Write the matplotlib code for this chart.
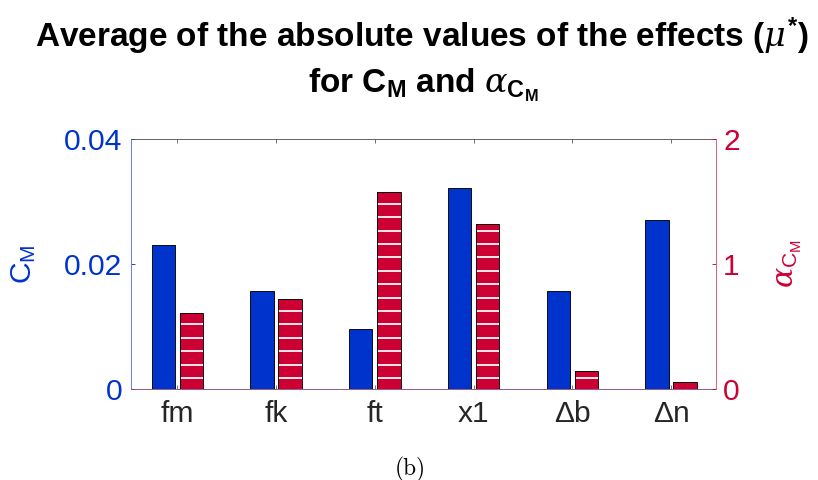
import numpy as np
import matplotlib
matplotlib.use('Agg')
import matplotlib.pyplot as plt

# valores medios de los efectos absolutos (mu*)
factores = ['fm', 'fk', 'ft', 'x1', '\u0394b', '\u0394n']
mu_cm = [0.0230, 0.0157, 0.0096, 0.0321, 0.0157, 0.0271]
mu_alpha = [0.61, 0.72, 1.574, 1.318, 0.147, 0.054]

ticks_cm = [0, 0.02, 0.04]
ticks_cm_txt = ['0', '0.02', '0.04']
ticks_alpha = [0, 1, 2]
ticks_alpha_txt = ['0', '1', '2']

azul = '#0033CC'
rojo = '#CC0033'

plt.rcParams['font.family'] = 'Liberation Sans'
plt.rcParams['mathtext.fontset'] = 'custom'
plt.rcParams['mathtext.rm'] = 'Liberation Sans'
plt.rcParams['mathtext.bf'] = 'Liberation Sans:bold'
plt.rcParams['mathtext.it'] = 'DejaVu Serif:italic'

fig = plt.figure(figsize=(818/80, 480/80), dpi=80)
ax = fig.add_axes([0.1601, 0.1896, 0.7158, 0.5208])
ax2 = ax.twinx()

x = np.arange(1, len(factores) + 1)
w = 0.236
d = 0.142

ax.bar(x - d, mu_cm, w, color=azul, edgecolor='black', linewidth=0.8)
ax2.bar(x + d, mu_alpha, w, color=rojo, linewidth=0, zorder=1)

# rayado horizontal blanco dentro de las barras rojas
paso = 0.1072
y0 = 0.088
for xi, h in zip(x + d, mu_alpha):
    ys = np.arange(y0, h, paso)
    ys = ys[ys < h - 0.01]
    ax2.hlines(ys, xi - w/2, xi + w/2, colors='white', linewidth=1.6, zorder=2)
ax2.bar(x + d, mu_alpha, w, fill=False, edgecolor='black', linewidth=0.8, zorder=3)

ax.set_xlim(0.53, 6.46)
ax.set_ylim(0, 0.04)
ax2.set_ylim(0, 2)

ax.set_xticks(x)
ax.set_xticklabels(factores, fontsize=27, color='#262626')
ax.set_yticks(ticks_cm)
ax.set_yticklabels(ticks_cm_txt, fontsize=27)
ax2.set_yticks(ticks_alpha)
ax2.set_yticklabels(ticks_alpha_txt, fontsize=27)

ax.tick_params(axis='x', direction='in', top=True, bottom=True, length=4,
               color='#666666', pad=10)
ax.tick_params(axis='y', direction='in', length=4, colors=azul, pad=8)
ax2.tick_params(axis='y', direction='in', length=4, colors=rojo, pad=6)

ax.spines['left'].set_color('#5577dd')
ax.spines['top'].set_color('#555555')
ax.spines['bottom'].set_color('#8a4a80')
ax.spines['right'].set_visible(False)
for s in ['left', 'top', 'bottom']:
    ax2.spines[s].set_visible(False)
ax2.spines['right'].set_color('#e05070')

# titulo en dos lineas
fig.text(0.516, 0.902, r'Average of the absolute values of the effects ($\mu^{\mathbf{*}}$)',
         ha='center', va='baseline', fontsize=30, fontweight='bold')
fig.text(0.517, 0.806, r'for C$_{\mathbf{M}}$ and $\alpha_{\mathbf{C}_{\mathbf{M}}}$',
         ha='center', va='baseline', fontsize=30, fontweight='bold')

fig.text(24/818, 0.45, r'C$_\mathrm{M}$', rotation=90, ha='center', va='center',
         fontsize=27, color=azul)
fig.text(790/818, 0.45, r'$\alpha_{\mathrm{C}_\mathrm{M}}$', rotation=90, ha='center',
         va='center', fontsize=27, color=rojo)

fig.text(410/818, 1 - 469/480, '(b)', ha='center', va='center', fontsize=21,
         family='cmr10')

fig.savefig('out.png', dpi=80)
